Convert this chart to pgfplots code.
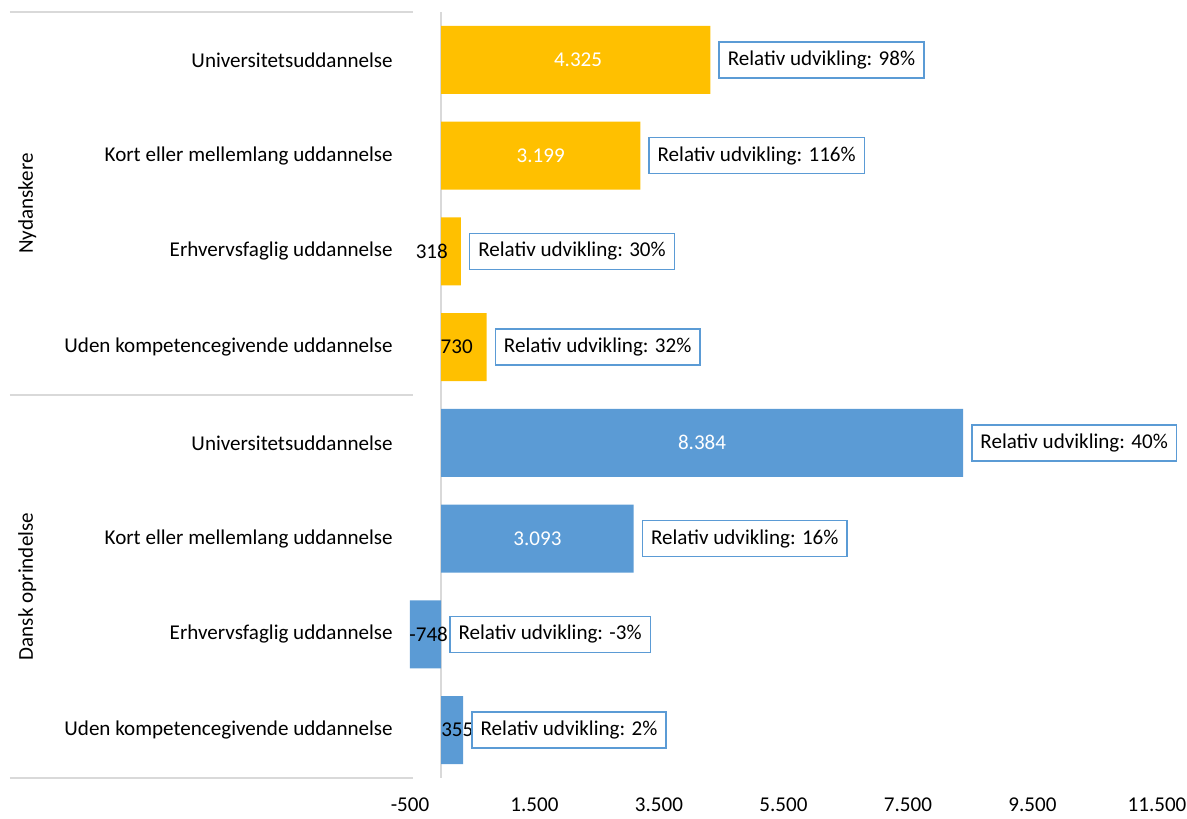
\documentclass[border=0pt]{standalone}
\usepackage{pgfplots}
\pgfplotsset{compat=1.18}
\usepackage{fontspec}
\setmainfont{Carlito}
\definecolor{gold}{HTML}{FFC000}
\definecolor{xlblue}{HTML}{5B9BD5}
\definecolor{sepgray}{HTML}{D9D9D9}
\newcommand{\lf}{\fontsize{15.8}{18}\selectfont}
\begin{document}
\begin{tikzpicture}
\begin{axis}[
    name=ax,
    scale only axis,
    width=560.25pt, height=574.5pt,
    xmin=-500, xmax=11500,
    ymin=-0.5, ymax=7.5,
    clip=false,
    scaled x ticks=false,
    axis line style={draw=none},
    major tick length=0pt,
    tick style={draw=none},
    xtick={-500,1500,3500,5500,7500,9500,11500},
    xticklabels={-500,1.500,3.500,5.500,7.500,9.500,11.500},
    xticklabel style={font=\lf, inner sep=0pt, anchor=north, yshift=-14.5pt},
    ytick={0,1,2,3,4,5,6,7},
    yticklabels={Uden kompetencegivende uddannelse, Erhvervsfaglig uddannelse, Kort eller mellemlang uddannelse, Universitetsuddannelse,
                 Uden kompetencegivende uddannelse, Erhvervsfaglig uddannelse, Kort eller mellemlang uddannelse, Universitetsuddannelse},
    yticklabel style={font=\lf, inner sep=0pt, anchor=east, xshift=-12.75pt},
    extra x ticks={0},
    extra x tick labels={},
    extra x tick style={grid=major, major grid style={color=sepgray, line width=1.5pt}},
]
% bars, Nydanskere
\addplot[xbar, bar width=51pt, bar shift=0pt, fill=gold, draw=none, restrict x to domain*=-500:11500]
coordinates {(730,4) (318,5) (3199,6) (4325,7)};
% bars, Dansk oprindelse
\addplot[xbar, bar width=51pt, bar shift=0pt, fill=xlblue, draw=none, restrict x to domain*=-500:11500]
coordinates {(355,0) (-748,1) (3093,2) (8384,3)};

% value labels inside large bars
\addplot[draw=none, nodes near coords, point meta=explicit symbolic,
    every node near coord/.append style={anchor=center, font=\lf, text=white, inner sep=0pt}]
coordinates {(2200,7)[4.325] (1600,6)[3.199] (4192,3)[8.384] (1547,2)[3.093]};
% value labels, small bars
\addplot[draw=none, nodes near coords, point meta=explicit symbolic,
    every node near coord/.append style={anchor=center, font=\lf, text=black, inner sep=0pt}]
coordinates {(-150,5)[318] (250,4)[730] (-200,1)[-748] (260,0)[355]};

% relative development boxes
\addplot[draw=none, nodes near coords, point meta=explicit symbolic,
    every node near coord/.append style={anchor=west, xshift=6pt, font=\lf, text=black,
        draw=xlblue, line width=1.1pt, fill=white, inner xsep=6.5pt, inner ysep=0pt,
        minimum height=27pt}]
coordinates {(4325,7)[Relativ udvikling: 98\%] (3199,6)[Relativ udvikling: 116\%]
             (318,5)[Relativ udvikling: 30\%] (730,4)[Relativ udvikling: 32\%]
             (8384,3)[Relativ udvikling: 40\%] (3093,2)[Relativ udvikling: 16\%]
             (0,1)[Relativ udvikling: -3\%] (355,0)[Relativ udvikling: 2\%]};

% group separators and labels
\draw[sepgray, line width=1.1pt] ([xshift=-300pt]rel axis cs:0,1) -- ([xshift=2.25pt]rel axis cs:0,1);
\draw[sepgray, line width=1.1pt] ([xshift=-300pt]rel axis cs:0,0.5) -- ([xshift=2.25pt]rel axis cs:0,0.5);
\draw[sepgray, line width=1.1pt] ([xshift=-300pt]rel axis cs:0,0) -- ([xshift=2.25pt]rel axis cs:0,0);
\node[rotate=90, font=\lf, inner sep=0pt] at ([xshift=-287pt]rel axis cs:0,0.75) {Nydanskere};
\node[rotate=90, font=\lf, inner sep=0pt] at ([xshift=-287pt]rel axis cs:0,0.25) {Dansk oprindelse};
\end{axis}
\path ([xshift=-307.5pt, yshift=-30.75pt]ax.south west) rectangle ([xshift=22.5pt, yshift=9pt]ax.north east);
\end{tikzpicture}
\end{document}
